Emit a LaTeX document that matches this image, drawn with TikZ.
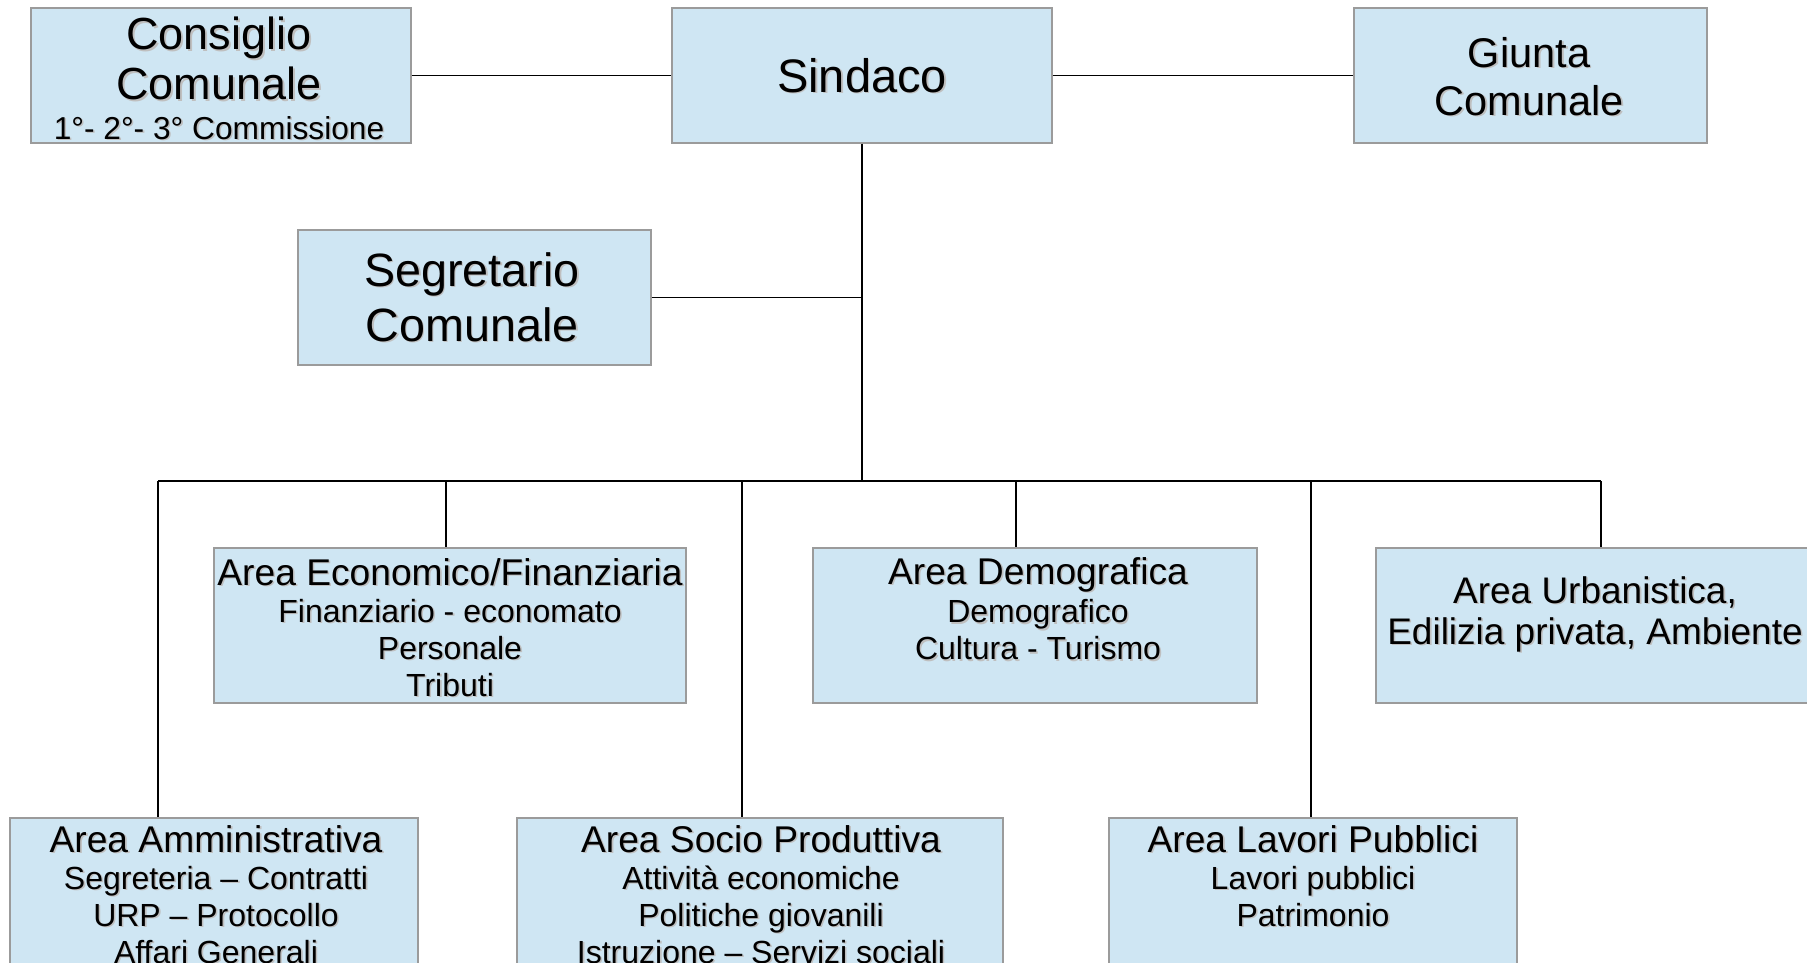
\documentclass[tikz,border=0pt]{standalone}
\usepackage{fontspec}
\setmainfont{Liberation Sans}
\definecolor{boxblue}{RGB}{207,230,243}
\definecolor{boxgray}{RGB}{155,155,155}
\newcommand{\sh}[1]{\rlap{\kern1.6pt\raisebox{-1.6pt}{\textcolor{black!25}{#1}}}#1}
\newcommand{\titolo}{\fontsize{37.2}{37}\selectfont}
\newcommand{\voce}{\fontsize{32}{37}\selectfont}
\tikzset{
  ente/.style={draw=boxgray, fill=boxblue, line width=1.2pt, inner sep=0pt},
  testo/.style={anchor=north, inner sep=0pt, align=center},
  linea/.style={line width=1.2pt}
}
\begin{document}
\begin{tikzpicture}[x=1pt,y=-1pt]
  \useasboundingbox (0,0) rectangle (1807,962);
  \clip (0,0) rectangle (1807,962);
  \node[ente, minimum width=380, minimum height=135] (cons) at (221,75.5) {};
  \node[ente, minimum width=380, minimum height=135] (sind) at (862,75.5) {};
  \node[ente, minimum width=353, minimum height=135] (giun) at (1530.5,75.5) {};
  \node[ente, minimum width=353, minimum height=135] (segr) at (474.5,297.5) {};
  \node[ente, minimum width=472, minimum height=155] (econ) at (450,625.5) {};
  \node[ente, minimum width=444, minimum height=155] (demo) at (1035,625.5) {};
  \node[ente, minimum width=450, minimum height=155] (urba) at (1601,625.5) {};
  \node[ente, minimum width=408, minimum height=190] (ammi) at (214,913) {};
  \node[ente, minimum width=486, minimum height=190] (socio) at (760,913) {};
  \node[ente, minimum width=408, minimum height=190] (lavori) at (1313,913) {};
  \coordinate (d1) at (158,481);
  \coordinate (d2) at (446,481);
  \coordinate (d3) at (742,481);
  \coordinate (d4) at (1016,481);
  \coordinate (d5) at (1311,481);
  \coordinate (d6) at (1601,481);
  \draw[linea] (cons) -- (sind);
  \draw[linea] (sind) -- (giun);
  \draw[linea] (sind.south) -- (sind.south |- d1);
  \draw[linea] (segr.east) -- (segr.east -| sind.south);
  \draw[linea] (d1) -- (d6);
  \foreach \d/\b in {d1/ammi, d2/econ, d3/socio, d4/demo, d5/lavori, d6/urba}
    \draw[linea] (\d) -- (\d |- \b.north);
  \node[testo, font=\fontsize{45}{50}\selectfont] (consT) at (219,17)
    {\sh{Consiglio}\\\sh{Comunale}\\[-10.5pt]{\fontsize{31.7}{37}\selectfont\sh{1°- 2°- 3° Commissione}}};
  \node[testo, font=\fontsize{47}{55}\selectfont] (sindT) at (862,58) {\sh{Sindaco}};
  \node[testo, font=\fontsize{41.5}{48}\selectfont] (giunT) at (1529,37) {\sh{Giunta}\\\sh{Comunale}};
  \node[testo, font=\fontsize{46.7}{55}\selectfont] (segrT) at (472,252) {\sh{Segretario}\\\sh{Comunale}};
  \node[testo, font=\voce] (econT) at (450,558)
    {{\titolo\sh{Area Economico/Finanziaria}}\\\sh{Finanziario - economato}\\\sh{Personale}\\\sh{Tributi}};
  \node[testo, font=\voce] (demoT) at (1038,557)
    {{\titolo\sh{Area Demografica}}\\[1.5pt]\sh{Demografico}\\\sh{Cultura - Turismo}};
  \node[testo, font=\fontsize{37}{41}\selectfont] (urbaT) at (1595,576)
    {\sh{Area Urbanistica,}\\\sh{Edilizia privata, Ambiente}};
  \node[testo, font=\voce] (ammiT) at (216,825)
    {{\titolo\sh{Area Amministrativa}}\\\sh{Segreteria – Contratti}\\\sh{URP – Protocollo}\\\sh{Affari Generali}};
  \node[testo, font=\voce] (socioT) at (761,825)
    {{\titolo\sh{Area Socio Produttiva}}\\\sh{Attività economiche}\\\sh{Politiche giovanili}\\\sh{Istruzione – Servizi sociali}};
  \node[testo, font=\voce] (lavoriT) at (1313,825)
    {{\titolo\sh{Area Lavori Pubblici}}\\\sh{Lavori pubblici}\\\sh{Patrimonio}};
\end{tikzpicture}
\end{document}
